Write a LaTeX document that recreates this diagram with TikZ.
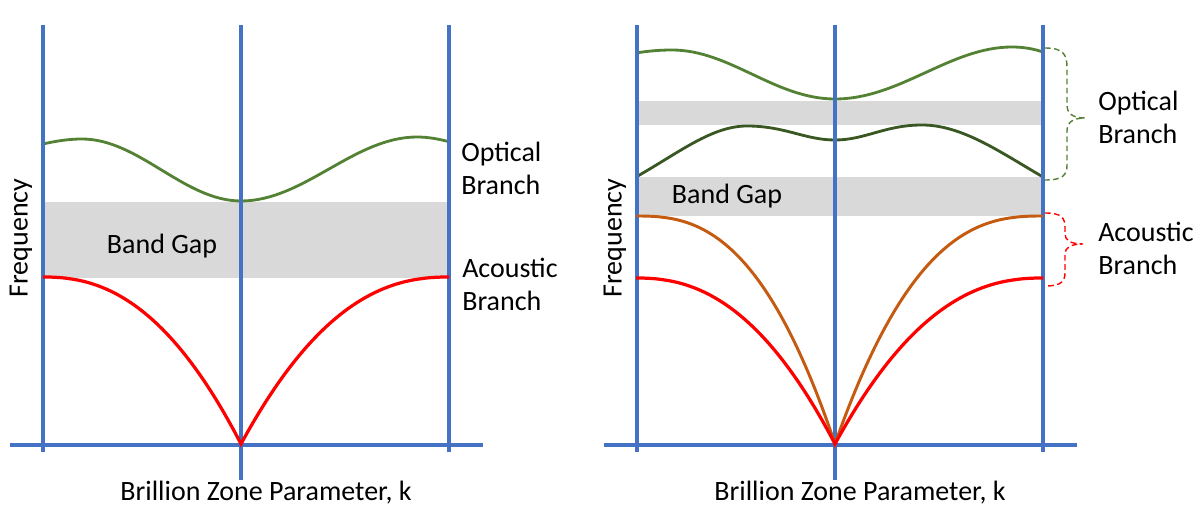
\documentclass[tikz,border=0pt]{standalone}
\usepackage{fontspec}
\setmainfont{Carlito}
\usetikzlibrary{positioning}
\definecolor{axisblue}{RGB}{68,114,196}
\definecolor{optgreen}{RGB}{84,130,53}
\definecolor{optdark}{RGB}{56,87,35}
\definecolor{acorange}{RGB}{197,90,17}
\definecolor{gapgray}{RGB}{217,217,217}

\begin{document}
\begin{tikzpicture}[x=0.025cm, y=-0.025cm,
    axis/.style={axisblue, line width=2.2pt},
    branch/.style={line width=2pt},
    txt/.style={font=\fontsize{19.9}{23.5}\selectfont, inner sep=0pt, align=left},
    bracket/.style={line width=1pt, dash pattern=on 4pt off 2.5pt}]
  \useasboundingbox (0,0) rectangle (1202,510);

  % band gaps
  \fill[gapgray] (43,202) rectangle (450,278);
  \fill[gapgray] (636,101) rectangle (1043,125);
  \fill[gapgray] (636,177) rectangle (1043,216);

  % optical branches
  \draw[branch, optgreen] (43,144) .. controls (56,141) and (69,139) .. (82,139)
    .. controls (139,139) and (184,201) .. (241,201)
    .. controls (304,201) and (354,137) .. (417,137)
    .. controls (428,137) and (439,139) .. (450,142);
  \draw[branch, optgreen] (636,53) .. controls (648,51) and (660,50) .. (672,50)
    .. controls (730,50) and (775,99) .. (835,99)
    .. controls (900,99) and (950,47) .. (1012,47)
    .. controls (1024,47) and (1034,49) .. (1043,52);
  \draw[branch, optdark] (636,177) .. controls (680,152) and (712,126) .. (747,126)
    .. controls (785,126) and (805,140) .. (835,140)
    .. controls (865,140) and (885,125) .. (922,125)
    .. controls (962,125) and (1000,152) .. (1043,177);

  % axes and zone boundaries
  \foreach \dx in {0,594} {
    \draw[axis] (\dx+10,445) -- (\dx+483,445);
    \draw[axis] (\dx+43,25) -- (\dx+43,452);
    \draw[axis] (\dx+241,25) -- (\dx+241,480);
    \draw[axis] (\dx+449,25) -- (\dx+449,452);
    \node[txt, rotate=90] (freq\dx) at (\dx+21,238) {Frequency};
    \node[txt] (kaxis\dx) at (\dx+266,493) {Brillion Zone Parameter, k};
  }

  % acoustic branches, running from the zone edge into the cusp at k=0
  \draw[branch, red, line width=2.3pt] (43,277)
    -- plot[domain=0.002:1, samples=80] ({43+198*\x},{277+167*pow(\x,2.3)})
    -- plot[domain=1:0.002, samples=80] ({449-208*\x},{277+167*pow(\x,2.3)}) -- (449,277);
  \draw[branch, acorange, line width=2.1pt] (636,216)
    -- plot[domain=0.002:1, samples=80] ({636+199*\x},{216+228*pow(\x,2.6)})
    -- plot[domain=1:0.002, samples=80] ({1043-208*\x},{216+228*pow(\x,2.6)}) -- (1043,216);
  \draw[branch, red, line width=2.3pt] (636,278)
    -- plot[domain=0.002:1, samples=80] ({636+199*\x},{278+166*pow(\x,2.3)})
    -- plot[domain=1:0.002, samples=80] ({1043-208*\x},{278+166*pow(\x,2.3)}) -- (1043,278);

  % braces
  \draw[bracket, optgreen] (1045,48) .. controls (1064,48) and (1067,55) .. (1067,68)
    -- (1067,105) .. controls (1067,113) and (1072,118) .. (1085,118)
    .. controls (1072,118) and (1067,123) .. (1067,131)
    -- (1067,165) .. controls (1067,175) and (1063,180) .. (1045,180);
  \draw[bracket, red] (1045,213) .. controls (1062,213) and (1065,218) .. (1065,228)
    -- (1065,234) .. controls (1065,240) and (1070,244) .. (1083,244)
    .. controls (1070,244) and (1065,248) .. (1065,254)
    -- (1065,272) .. controls (1065,281) and (1062,286) .. (1045,286);

  % labels
  \node[txt] (gapL) at (162,246) {Band Gap};
  \node[txt] (gapR) at (727,196) {Band Gap};
  \node[txt, anchor=west] (optL) at (461,168) {Optical\\Branch};
  \node[txt, anchor=west] (acoL) at (462,284) {Acoustic\\Branch};
  \node[txt, anchor=west] (optR) at (1098,117) {Optical\\Branch};
  \node[txt, anchor=west] (acoR) at (1098,248) {Acoustic\\Branch};
\end{tikzpicture}
\end{document}
